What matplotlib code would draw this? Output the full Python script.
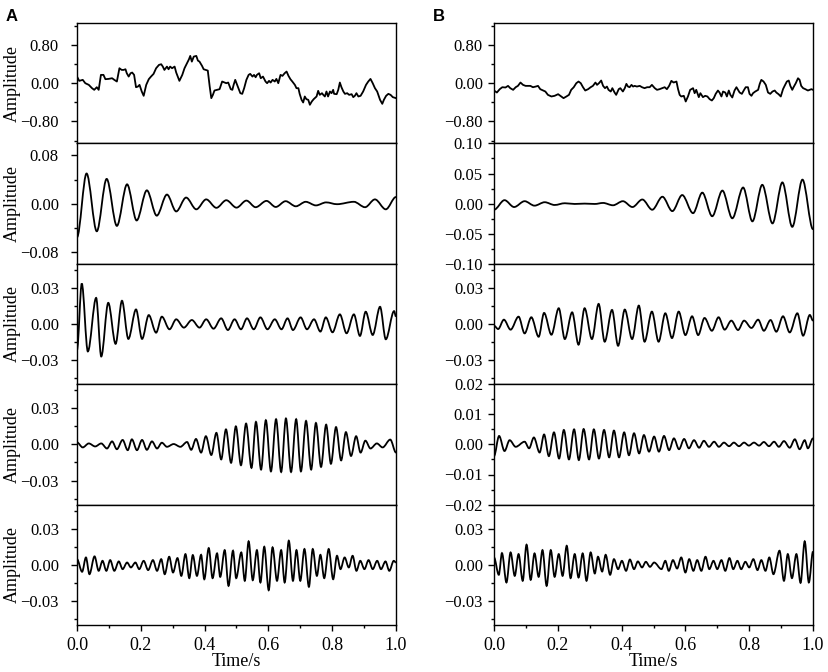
import matplotlib
matplotlib.use("Agg")
import matplotlib.pyplot as plt
from matplotlib.ticker import MultipleLocator, FuncFormatter
from matplotlib.path import Path
from matplotlib.patches import PathPatch

plt.rcParams['font.family'] = ['Liberation Serif', 'DejaVu Serif']

# ---- A: raw signal ----
a1_t = [0.000, 0.007, 0.018, 0.026, 0.037, 0.047, 0.054, 0.062, 0.068, 0.075, 0.083, 0.089, 0.099, 0.110,
        0.117, 0.125, 0.133, 0.140, 0.146, 0.152, 0.156, 0.162, 0.168, 0.173, 0.179, 0.185, 0.191, 0.196,
        0.203, 0.209, 0.217, 0.225, 0.232, 0.240, 0.248, 0.257, 0.264, 0.269, 0.274, 0.282, 0.287, 0.292,
        0.298, 0.306, 0.311, 0.316, 0.321, 0.330, 0.337, 0.345, 0.351, 0.355, 0.360, 0.366, 0.374, 0.379,
        0.384, 0.392, 0.397, 0.403, 0.410, 0.416, 0.421, 0.426, 0.431, 0.439, 0.447, 0.455, 0.463, 0.468,
        0.474, 0.482, 0.487, 0.491, 0.496, 0.502, 0.508, 0.512, 0.518, 0.524, 0.531, 0.538, 0.543, 0.550,
        0.555, 0.560, 0.564, 0.571, 0.576, 0.583, 0.591, 0.596, 0.602, 0.607, 0.613, 0.620, 0.625, 0.631,
        0.638, 0.644, 0.651, 0.657, 0.663, 0.669, 0.675, 0.683, 0.688, 0.694, 0.698, 0.704, 0.709, 0.714,
        0.719, 0.725, 0.730, 0.736, 0.742, 0.751, 0.756, 0.761, 0.768, 0.772, 0.777, 0.782, 0.787, 0.793,
        0.798, 0.803, 0.806, 0.814, 0.819, 0.824, 0.829, 0.835, 0.840, 0.847, 0.853, 0.861, 0.866, 0.871,
        0.876, 0.882, 0.889, 0.897, 0.906, 0.913, 0.920, 0.927, 0.934, 0.941, 0.950, 0.957, 0.962, 0.969,
        0.976, 0.983, 0.990, 1.000]
a1_y = [0.139, 0.049, 0.070, 0.000, -0.035, -0.104, -0.139, -0.084, -0.139, 0.174, 0.174, 0.084, 0.090, 0.104,
        0.070, 0.035, 0.313, 0.278, 0.278, 0.292, 0.209, 0.139, 0.209, 0.223, 0.174, -0.084, -0.070, -0.035,
        -0.174, -0.264, -0.035, 0.084, 0.139, 0.195, 0.313, 0.383, 0.397, 0.348, 0.278, 0.348, 0.292, 0.348,
        0.313, 0.348, 0.223, 0.139, 0.049, 0.174, 0.313, 0.418, 0.501, 0.571, 0.452, 0.557, 0.571, 0.473,
        0.452, 0.362, 0.292, 0.278, 0.264, -0.070, -0.313, -0.244, -0.153, -0.139, -0.125, 0.035, 0.014, 0.000,
        0.014, -0.125, -0.139, -0.035, 0.070, -0.035, -0.139, -0.209, -0.223, -0.104, 0.070, 0.174, 0.195, 0.139,
        0.174, 0.125, 0.174, 0.209, 0.104, 0.139, 0.035, 0.000, 0.049, 0.014, 0.070, 0.035, 0.090, 0.000,
        0.174, 0.153, 0.209, 0.244, 0.153, 0.084, 0.035, -0.035, -0.104, -0.104, -0.223, -0.348, -0.404, -0.278,
        -0.334, -0.348, -0.452, -0.383, -0.334, -0.278, -0.160, -0.244, -0.209, -0.244, -0.278, -0.174, -0.278, -0.174,
        -0.209, -0.139, -0.223, -0.230, -0.139, 0.014, -0.084, -0.174, -0.223, -0.209, -0.244, -0.230, -0.292, -0.264,
        -0.209, -0.278, -0.264, -0.174, -0.035, 0.035, 0.090, 0.000, -0.104, -0.174, -0.348, -0.432, -0.348, -0.264,
        -0.223, -0.244, -0.292, -0.313]

# ---- A: mode 1 ----
a2_t = [0.000, 0.030, 0.062, 0.093, 0.125, 0.157, 0.187, 0.219, 0.250, 0.282, 0.311, 0.342, 0.374, 0.405,
        0.437, 0.468, 0.500, 0.531, 0.560, 0.594, 0.623, 0.654, 0.686, 0.717, 0.749, 0.781, 0.815, 0.868,
        0.903, 0.934, 0.968, 1.000]
a2_y = [-0.056, 0.050, -0.046, 0.041, -0.037, 0.032, -0.028, 0.022, -0.020, 0.015, -0.013, 0.010, -0.0095, 0.007,
        -0.007, 0.0056, -0.0067, 0.005, -0.006, 0.0045, -0.0056, 0.004, -0.0045, 0.003, -0.003, 0.002, -0.001, 0.003,
        -0.006, 0.007, -0.0095, 0.011]

# ---- A: mode 2 ----
a3_t = [0.000, 0.015, 0.034, 0.060, 0.076, 0.098, 0.121, 0.141, 0.161, 0.185, 0.204, 0.225, 0.248, 0.266,
        0.290, 0.311, 0.335, 0.360, 0.384, 0.405, 0.428, 0.452, 0.473, 0.494, 0.514, 0.533, 0.554, 0.575,
        0.597, 0.620, 0.641, 0.660, 0.677, 0.701, 0.721, 0.743, 0.763, 0.780, 0.801, 0.824, 0.845, 0.868,
        0.887, 0.905, 0.927, 0.950, 0.968, 0.994, 1.000]
a3_y = [-0.0215, 0.0336, -0.0228, 0.0217, -0.0270, 0.0176, -0.0165, 0.0193, -0.0124, 0.0121, -0.0124, 0.0074, -0.0072, 0.0061,
        -0.0044, 0.0039, -0.0030, 0.0033, -0.0030, 0.0039, -0.0039, 0.0047, -0.0050, 0.0039, -0.0044, 0.0047, -0.0044, 0.0055,
        -0.0044, 0.0039, -0.0044, 0.0047, -0.0050, 0.0055, -0.0044, 0.0039, -0.0063, 0.0055, -0.0069, 0.0080, -0.0077, 0.0080,
        -0.0099, 0.0102, -0.0091, 0.0143, -0.0127, 0.0107, 0.0061]

# ---- A: mode 3 ----
a4_t = [0.000, 0.018, 0.037, 0.057, 0.076, 0.094, 0.110, 0.125, 0.143, 0.159, 0.172, 0.188, 0.204, 0.219,
        0.235, 0.251, 0.266, 0.282, 0.303, 0.324, 0.345, 0.358, 0.373, 0.389, 0.404, 0.421, 0.437, 0.452,
        0.467, 0.483, 0.498, 0.514, 0.530, 0.547, 0.561, 0.577, 0.592, 0.608, 0.624, 0.640, 0.655, 0.671,
        0.687, 0.702, 0.718, 0.734, 0.749, 0.765, 0.781, 0.796, 0.812, 0.828, 0.843, 0.859, 0.875, 0.889,
        0.904, 0.920, 0.940, 0.958, 0.982, 1.000]
a4_y = [0.0017, -0.0025, 0.0008, -0.0017, 0.0008, -0.0034, 0.0025, -0.0040, 0.0037, -0.0048, 0.0042, -0.0048, 0.0037, -0.0045,
        0.0025, -0.0034, 0.0014, -0.0020, 0.0003, -0.0020, 0.0020, -0.0045, 0.0045, -0.0068, 0.0068, -0.0088, 0.0096, -0.0125,
        0.0125, -0.0153, 0.0150, -0.0173, 0.0173, -0.0195, 0.0187, -0.0209, 0.0201, -0.0224, 0.0209, -0.0229, 0.0215, -0.0229,
        0.0209, -0.0224, 0.0195, -0.0209, 0.0178, -0.0187, 0.0164, -0.0161, 0.0144, -0.0133, 0.0102, -0.0096, 0.0068, -0.0068,
        0.0031, -0.0034, 0.0008, -0.0025, 0.0040, -0.0068]

# ---- A: mode 4 ----
a5_t = [0.000, 0.016, 0.028, 0.039, 0.055, 0.068, 0.080, 0.092, 0.104, 0.117, 0.131, 0.143, 0.157, 0.169,
        0.183, 0.195, 0.209, 0.223, 0.238, 0.251, 0.264, 0.275, 0.289, 0.301, 0.315, 0.327, 0.340, 0.352,
        0.363, 0.376, 0.389, 0.399, 0.413, 0.425, 0.439, 0.449, 0.463, 0.475, 0.489, 0.499, 0.515, 0.526,
        0.538, 0.551, 0.564, 0.575, 0.587, 0.601, 0.613, 0.627, 0.640, 0.651, 0.664, 0.677, 0.688, 0.700,
        0.713, 0.727, 0.739, 0.752, 0.763, 0.775, 0.789, 0.803, 0.815, 0.826, 0.839, 0.852, 0.864, 0.876,
        0.888, 0.901, 0.914, 0.927, 0.941, 0.953, 0.967, 0.979, 0.993, 1.000]
a5_y = [0.0047, -0.0058, 0.0061, -0.0078, 0.0070, -0.0050, 0.0033, -0.0050, 0.0039, -0.0050, 0.0028, -0.0036, 0.0019, -0.0022,
        0.0019, -0.0036, 0.0033, -0.0044, 0.0039, -0.0050, 0.0047, -0.0078, 0.0067, -0.0064, 0.0056, -0.0092, 0.0089, -0.0111,
        0.0081, -0.0092, 0.0083, -0.0120, 0.0139, -0.0111, 0.0095, -0.0100, 0.0122, -0.0175, 0.0117, -0.0111, 0.0103, -0.0133,
        0.0195, -0.0128, 0.0122, -0.0147, 0.0150, -0.0211, 0.0145, -0.0133, 0.0122, -0.0147, 0.0200, -0.0133, 0.0122, -0.0133,
        0.0131, -0.0183, 0.0131, -0.0092, 0.0083, -0.0111, 0.0131, -0.0120, 0.0075, -0.0036, 0.0061, -0.0022, 0.0075, -0.0050,
        0.0033, -0.0036, 0.0039, -0.0036, 0.0033, -0.0036, 0.0028, -0.0050, 0.0033, 0.0019]

# ---- B: raw signal ----
b1_t = [0.000, 0.009, 0.018, 0.026, 0.036, 0.044, 0.051, 0.060, 0.068, 0.075, 0.083, 0.091, 0.099, 0.107,
        0.114, 0.122, 0.131, 0.138, 0.145, 0.154, 0.161, 0.169, 0.180, 0.190, 0.201, 0.211, 0.218, 0.227,
        0.235, 0.242, 0.250, 0.258, 0.265, 0.272, 0.279, 0.286, 0.295, 0.303, 0.310, 0.318, 0.323, 0.329,
        0.336, 0.342, 0.348, 0.354, 0.359, 0.366, 0.371, 0.378, 0.383, 0.391, 0.396, 0.404, 0.410, 0.415,
        0.420, 0.425, 0.431, 0.436, 0.441, 0.448, 0.457, 0.464, 0.472, 0.480, 0.488, 0.495, 0.504, 0.511,
        0.519, 0.527, 0.535, 0.542, 0.549, 0.556, 0.563, 0.572, 0.577, 0.582, 0.587, 0.595, 0.601, 0.608,
        0.615, 0.624, 0.629, 0.634, 0.642, 0.647, 0.655, 0.662, 0.669, 0.676, 0.683, 0.689, 0.695, 0.702,
        0.707, 0.713, 0.718, 0.725, 0.730, 0.736, 0.741, 0.747, 0.754, 0.760, 0.765, 0.770, 0.777, 0.784,
        0.789, 0.796, 0.801, 0.807, 0.812, 0.819, 0.828, 0.833, 0.838, 0.845, 0.852, 0.859, 0.866, 0.873,
        0.880, 0.885, 0.892, 0.899, 0.906, 0.911, 0.918, 0.924, 0.929, 0.935, 0.939, 0.946, 0.953, 0.958,
        0.963, 0.969, 0.976, 0.984, 0.990, 0.995, 1.000]
b1_y = [-0.153, -0.195, -0.125, -0.084, -0.090, -0.056, -0.104, -0.139, -0.084, -0.056, 0.014, -0.035, -0.056, -0.056,
        -0.056, -0.084, -0.070, -0.056, -0.125, -0.153, -0.174, -0.244, -0.278, -0.264, -0.230, -0.278, -0.313, -0.278,
        -0.244, -0.139, -0.084, 0.000, 0.035, 0.000, -0.084, -0.153, -0.125, -0.084, -0.056, 0.014, -0.035, 0.000,
        0.056, -0.056, -0.104, -0.070, -0.139, -0.174, -0.104, -0.195, -0.244, -0.125, -0.104, -0.174, -0.104, -0.014,
        -0.070, -0.084, -0.035, -0.070, -0.056, -0.070, -0.056, -0.084, -0.104, -0.084, -0.084, -0.035, -0.104, -0.139,
        -0.125, -0.104, -0.084, -0.125, -0.056, 0.049, 0.014, 0.035, -0.125, -0.244, -0.278, -0.264, -0.383, -0.278,
        -0.139, -0.104, -0.209, -0.139, -0.292, -0.209, -0.292, -0.264, -0.278, -0.334, -0.362, -0.313, -0.223, -0.153,
        -0.195, -0.278, -0.174, -0.195, -0.278, -0.153, -0.244, -0.299, -0.153, -0.084, -0.139, -0.195, -0.223, -0.139,
        -0.084, -0.084, -0.223, -0.264, -0.209, -0.174, -0.139, -0.014, 0.070, 0.035, -0.035, -0.195, -0.223, -0.174,
        -0.153, -0.195, -0.230, -0.278, -0.125, -0.056, 0.035, 0.056, -0.056, -0.139, -0.084, 0.000, 0.104, 0.070,
        -0.056, -0.104, -0.125, -0.153, -0.139, -0.125, -0.139]

# ---- B: mode 1 ----
b2_t = [0.000, 0.033, 0.063, 0.096, 0.127, 0.159, 0.190, 0.222, 0.253, 0.284, 0.316, 0.342, 0.373, 0.404,
        0.434, 0.465, 0.496, 0.528, 0.559, 0.590, 0.624, 0.653, 0.684, 0.716, 0.747, 0.781, 0.810, 0.841,
        0.873, 0.904, 0.935, 0.967, 1.000]
b2_y = [-0.0102, 0.0057, -0.0057, 0.0040, -0.0034, 0.0023, -0.0023, 0.0006, -0.0006, 0.0000, -0.0006, 0.0011, -0.0028, 0.0040,
        -0.0057, 0.0068, -0.0102, 0.0114, -0.0125, 0.0142, -0.0159, 0.0182, -0.0210, 0.0216, -0.0244, 0.0267, -0.0295, 0.0312,
        -0.0329, 0.0352, -0.0386, 0.0398, -0.0426]

# ---- B: mode 2 ----
b3_t = [0.000, 0.013, 0.031, 0.052, 0.077, 0.096, 0.117, 0.140, 0.157, 0.180, 0.203, 0.222, 0.245, 0.265,
        0.284, 0.307, 0.328, 0.347, 0.370, 0.389, 0.410, 0.433, 0.454, 0.472, 0.495, 0.516, 0.537, 0.558,
        0.579, 0.600, 0.621, 0.640, 0.660, 0.683, 0.704, 0.723, 0.744, 0.765, 0.784, 0.807, 0.828, 0.846,
        0.867, 0.885, 0.906, 0.927, 0.951, 0.969, 0.990, 1.000]
b3_y = [-0.0014, -0.0042, 0.0036, -0.0047, 0.0061, -0.0078, 0.0056, -0.0106, 0.0092, -0.0089, 0.0131, -0.0125, 0.0097, -0.0172,
        0.0131, -0.0125, 0.0167, -0.0147, 0.0117, -0.0181, 0.0120, -0.0125, 0.0153, -0.0147, 0.0103, -0.0147, 0.0089, -0.0117,
        0.0103, -0.0092, 0.0064, -0.0092, 0.0050, -0.0056, 0.0056, -0.0047, 0.0028, -0.0050, 0.0028, -0.0033, 0.0036, -0.0056,
        0.0033, -0.0064, 0.0064, -0.0070, 0.0089, -0.0097, 0.0075, 0.0028]

# ---- B: mode 3 ----
b4_t = [0.000, 0.016, 0.033, 0.049, 0.068, 0.096, 0.110, 0.125, 0.143, 0.157, 0.172, 0.188, 0.204, 0.219,
        0.235, 0.251, 0.266, 0.281, 0.298, 0.313, 0.329, 0.345, 0.361, 0.376, 0.392, 0.408, 0.423, 0.439,
        0.455, 0.470, 0.486, 0.502, 0.517, 0.533, 0.549, 0.564, 0.580, 0.596, 0.611, 0.627, 0.643, 0.658,
        0.674, 0.690, 0.705, 0.721, 0.737, 0.752, 0.768, 0.784, 0.799, 0.815, 0.831, 0.846, 0.862, 0.878,
        0.893, 0.909, 0.927, 0.943, 0.958, 0.974, 0.984, 1.000]
b4_y = [-0.0039, 0.0028, -0.0022, 0.0014, -0.0008, 0.0009, -0.0013, 0.0023, -0.0027, 0.0033, -0.0039, 0.0040, -0.0047, 0.0048,
        -0.0050, 0.0050, -0.0052, 0.0051, -0.0050, 0.0050, -0.0047, 0.0048, -0.0043, 0.0046, -0.0043, 0.0040, -0.0036, 0.0037,
        -0.0030, 0.0031, -0.0024, 0.0026, -0.0024, 0.0028, -0.0019, 0.0020, -0.0016, 0.0018, -0.0013, 0.0014, -0.0011, 0.0012,
        -0.0008, 0.0009, -0.0008, 0.0006, -0.0006, 0.0006, -0.0006, 0.0006, -0.0004, 0.0006, -0.0004, 0.0008, -0.0006, 0.0009,
        -0.0008, 0.0011, -0.0011, 0.0017, -0.0016, 0.0014, -0.0013, 0.0020]

# ---- B: mode 4 ----
b5_t = [0.000, 0.015, 0.025, 0.039, 0.052, 0.065, 0.077, 0.090, 0.102, 0.115, 0.127, 0.140, 0.152, 0.165,
        0.178, 0.190, 0.203, 0.215, 0.228, 0.240, 0.253, 0.265, 0.278, 0.290, 0.303, 0.316, 0.326, 0.339,
        0.350, 0.364, 0.376, 0.389, 0.401, 0.414, 0.426, 0.439, 0.451, 0.464, 0.476, 0.489, 0.502, 0.525,
        0.537, 0.548, 0.561, 0.574, 0.587, 0.600, 0.612, 0.625, 0.637, 0.650, 0.663, 0.675, 0.688, 0.700,
        0.713, 0.725, 0.738, 0.750, 0.763, 0.775, 0.788, 0.800, 0.813, 0.826, 0.838, 0.851, 0.863, 0.876,
        0.895, 0.909, 0.921, 0.934, 0.948, 0.961, 0.974, 0.987, 1.000]
b5_y = [0.0061, -0.0083, 0.0097, -0.0147, 0.0103, -0.0092, 0.0089, -0.0133, 0.0167, -0.0125, 0.0095, -0.0100, 0.0122, -0.0175,
        0.0122, -0.0100, 0.0089, -0.0092, 0.0158, -0.0111, 0.0089, -0.0106, 0.0095, -0.0133, 0.0103, -0.0072, 0.0067, -0.0056,
        0.0083, -0.0083, 0.0047, -0.0036, 0.0033, -0.0050, 0.0044, -0.0036, 0.0028, -0.0022, 0.0025, -0.0017, 0.0019, -0.0036,
        0.0033, -0.0050, 0.0039, -0.0031, 0.0061, -0.0064, 0.0047, -0.0050, 0.0039, -0.0050, 0.0067, -0.0036, 0.0033, -0.0036,
        0.0039, -0.0050, 0.0056, -0.0036, 0.0033, -0.0036, 0.0025, -0.0022, 0.0047, -0.0044, 0.0039, -0.0050, 0.0061, -0.0078,
        0.0117, -0.0133, 0.0089, -0.0111, 0.0089, -0.0150, 0.0195, -0.0147, 0.0110]

col_a = [(a1_t, a1_y), (a2_t, a2_y), (a3_t, a3_y), (a4_t, a4_y), (a5_t, a5_y)]
col_b = [(b1_t, b1_y), (b2_t, b2_y), (b3_t, b3_y), (b4_t, b4_y), (b5_t, b5_y)]
lim_a = [1.26, 0.1, 0.05, 0.05, 0.05]
step_a = [0.8, 0.08, 0.03, 0.03, 0.03]
lim_b = [1.26, 0.1, 0.05, 0.02, 0.05]
step_b = [0.8, 0.05, 0.03, 0.01, 0.03]


def fmt2(v, pos):
    s = f"{v:.2f}"
    if s == "-0.00":
        s = "0.00"
    return s.replace("-", "\u2212")


def fmt1(v, pos):
    return f"{v:.1f}"


def wave_path(t, y):
    # smooth curve through the read extrema (flat tangent at each one)
    verts = [(t[0], y[0])]
    codes = [Path.MOVETO]
    for k in range(1, len(t)):
        d = (t[k] - t[k - 1]) / 3
        verts += [(t[k - 1] + d, y[k - 1]), (t[k] - d, y[k]), (t[k], y[k])]
        codes += [Path.CURVE4] * 3
    return Path(verts, codes)


W, H = 829, 672
top, row_h = 23, 120.4
fig = plt.figure(figsize=(W / 100, H / 100), dpi=100)

for x0, panels, lims, steps, is_a in [(77, col_a, lim_a, step_a, True), (494, col_b, lim_b, step_b, False)]:
    for i in range(5):
        ax = fig.add_axes([x0 / W, 1 - (top + row_h * (i + 1)) / H, 319 / W, row_h / H])
        t, y = panels[i]
        if i == 0:
            ax.plot(t, y, color='black', lw=1.3)
        else:
            ax.add_patch(PathPatch(wave_path(t, y), fill=False, edgecolor='black', lw=1.3))
        ax.set_xlim(0, 1)
        ax.set_ylim(-lims[i], lims[i])
        ax.yaxis.set_major_locator(MultipleLocator(steps[i]))
        ax.yaxis.set_minor_locator(MultipleLocator(steps[i] / 2))
        ax.yaxis.set_major_formatter(FuncFormatter(fmt2))
        ax.tick_params(axis='y', which='major', direction='out', length=4, width=1,
                       labelsize=12, pad=9 if is_a else 4)
        ax.tick_params(axis='y', which='minor', direction='out', length=2.5, width=1)
        for s in ax.spines.values():
            s.set_linewidth(1.0)
        if i < 4:
            ax.tick_params(axis='x', which='both', bottom=False, labelbottom=False)
        else:
            ax.xaxis.set_major_locator(MultipleLocator(0.2))
            ax.xaxis.set_minor_locator(MultipleLocator(0.1))
            ax.xaxis.set_major_formatter(FuncFormatter(fmt1))
            ax.tick_params(axis='x', which='major', direction='out', length=4, width=1, labelsize=13, pad=5)
            ax.tick_params(axis='x', which='minor', direction='out', length=2.5, width=1)
            ax.set_xlabel('Time/s', fontsize=13, labelpad=-1)
        if is_a:
            ax.set_ylabel('Amplitude', fontsize=13)
            ax.yaxis.set_label_coords(-0.175, 0.5)

fig.text(6 / W, 1 - 9 / H, 'A', fontsize=12, fontweight='bold', family='Liberation Sans', va='top')
fig.text(433 / W, 1 - 9 / H, 'B', fontsize=12, fontweight='bold', family='Liberation Sans', va='top')

fig.savefig('out.png', dpi=100)
